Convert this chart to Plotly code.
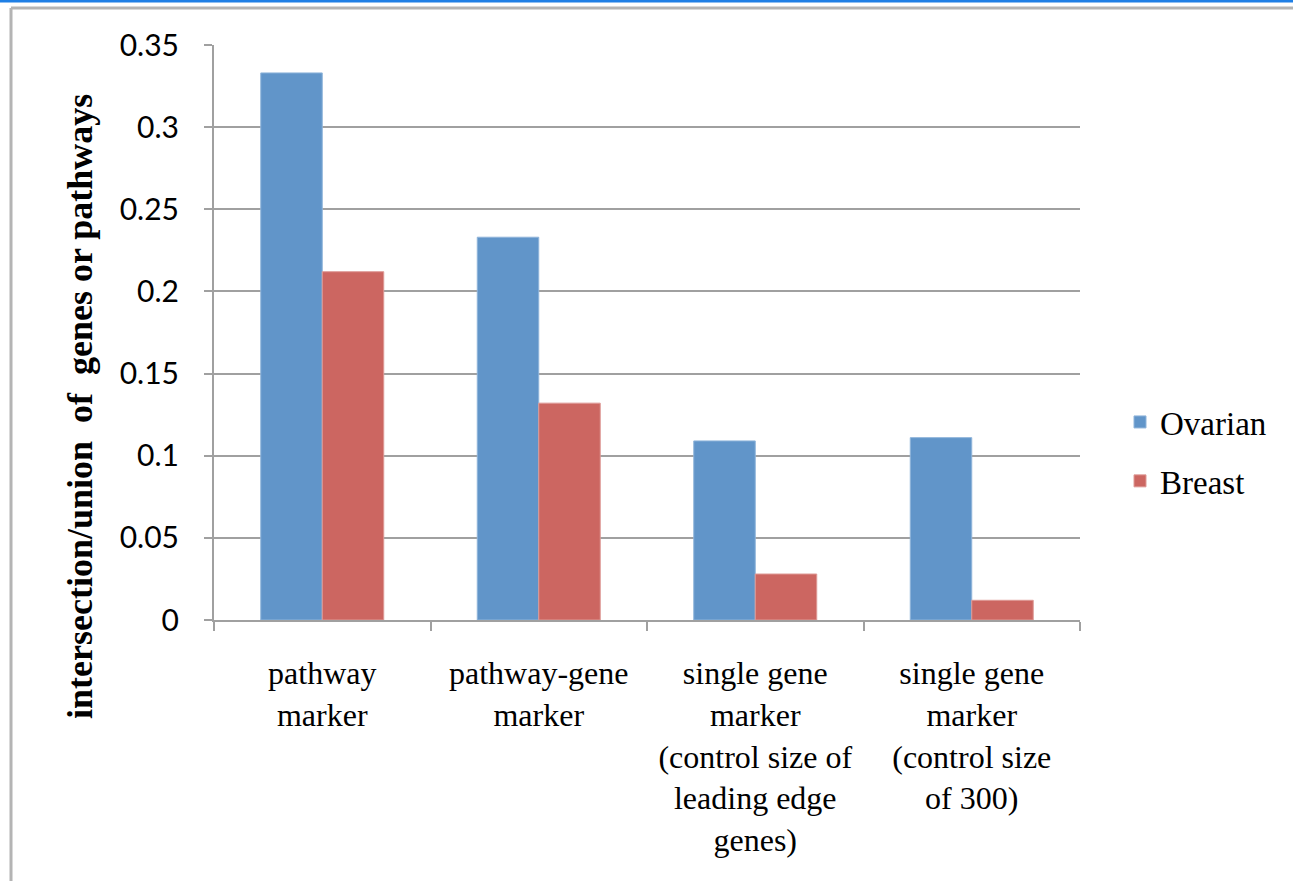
import plotly.graph_objects as go

categories = ["pathway<br>marker", "pathway-gene<br>marker",
              "single gene<br>marker<br>(control size of<br>leading edge<br>genes)",
              "single gene<br>marker<br>(control size<br>of 300)"]
ovarian = [0.333, 0.233, 0.109, 0.111]
breast = [0.212, 0.132, 0.028, 0.012]
series_names = ["Ovarian", "Breast"]
y_ticks = [0, 0.05, 0.1, 0.15, 0.2, 0.25, 0.3, 0.35]
y_tick_labels = ["0", "0.05", "0.1", "0.15", "0.2", "0.25", "0.3", "0.35"]

W, H = 1293, 881
L, R, T, B = 214, 213, 45, 261
pw, ph = W - L - R, H - T - B


def px(x):
    return (x - L) / pw


def py(y):
    return (H - B - y) / ph


fig = go.Figure()
fig.add_trace(go.Bar(x=categories, y=ovarian, name=series_names[0], legendgroup="a",
                     marker=dict(color="#6195C9", line=dict(color="#8FB4DA", width=1))))
fig.add_trace(go.Bar(x=categories, y=breast, name=series_names[1], legendgroup="b",
                     marker=dict(color="#CC6661", line=dict(color="#DE9A96", width=1))))

fig.update_layout(
    width=W, height=H,
    margin=dict(l=L, r=R, t=T, b=B, autoexpand=False),
    paper_bgcolor="white", plot_bgcolor="white",
    barmode="group", bargap=0.432, bargroupgap=0,
    showlegend=True,
    legend=dict(x=px(1120), y=py(394), xanchor="left", yanchor="top",
                font=dict(family="Liberation Serif", size=33, color="black"),
                bgcolor="rgba(0,0,0,0)", itemwidth=30, tracegroupgap=13),
    xaxis=dict(
        showline=True, linecolor="#A0A0A0", linewidth=2,
        ticks="outside", ticklen=9, tickcolor="#A0A0A0", tickwidth=2,
        tickson="boundaries", showgrid=False, automargin=False, tickangle=0,
        tickfont=dict(family="Liberation Serif", size=32, color="black"),
        ticklabelstandoff=24, fixedrange=True,
    ),
    yaxis=dict(
        range=[0, 0.35], tickvals=y_ticks, ticktext=y_tick_labels,
        showline=True, linecolor="#A0A0A0", linewidth=2,
        ticks="outside", ticklen=8, tickcolor="#A0A0A0", tickwidth=2,
        showgrid=True, gridcolor="#A0A0A0", gridwidth=2,
        zeroline=False, automargin=False,
        tickfont=dict(family="Lato", size=30, color="black"),
        ticklabelstandoff=19, fixedrange=True,
    ),
    annotations=[dict(
        text="intersection/union\u00a0 of\u00a0 genes or pathways",
        textangle=-90, xref="paper", yref="paper",
        x=px(80), y=py(407), xanchor="center", yanchor="middle",
        showarrow=False,
        font=dict(family="Liberation Serif", size=36, color="black", weight="bold"),
    )],
    shapes=[
        dict(type="line", xref="paper", yref="paper", x0=px(0), x1=px(W), y0=py(1), y1=py(1),
             line=dict(color="#1F7FE5", width=3)),
        dict(type="line", xref="paper", yref="paper", x0=px(11), x1=px(W), y0=py(8), y1=py(8),
             line=dict(color="#B4B4B4", width=3)),
        dict(type="line", xref="paper", yref="paper", x0=px(11), x1=px(11), y0=py(8), y1=py(H),
             line=dict(color="#B4B4B4", width=3)),
    ],
)

fig.write_html("out.html", config={"displayModeBar": False})
